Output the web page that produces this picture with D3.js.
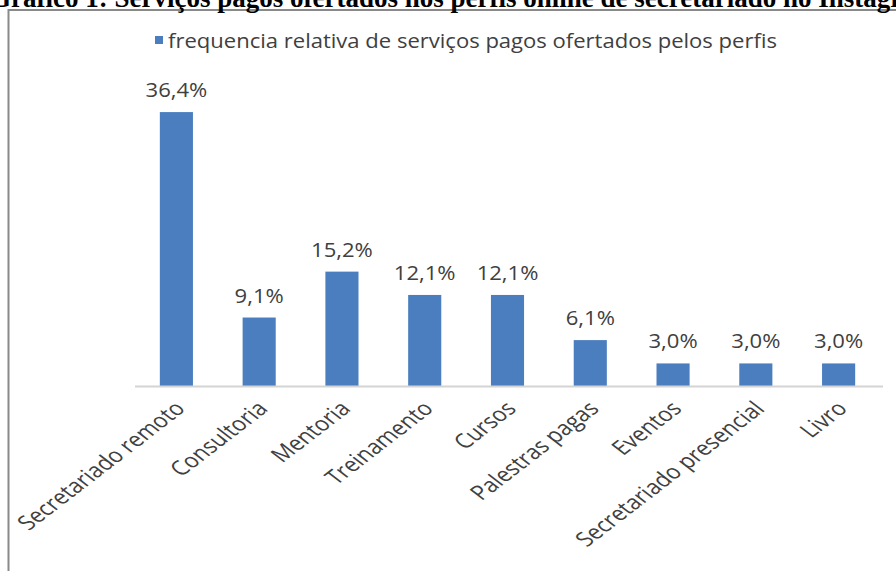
<!DOCTYPE html>
<html>
<head>
  <meta charset='utf-8'>
  <title>Gráfico 1</title>
  <script src="https://cdnjs.cloudflare.com/ajax/libs/d3/7.8.5/d3.min.js"></script>
  <style>
    body { margin: 0; background: white; }
    .lbl { font-family: 'Open Sans', sans-serif; fill: #404040; }
  </style>
</head>
<body>
  <svg id="chart" width="896" height="571"></svg>
  <script>
    const categories = ['Secretariado remoto', 'Consultoria', 'Mentoria', 'Treinamento', 'Cursos',
      'Palestras pagas', 'Eventos', 'Secretariado presencial', 'Livro'];
    const values = [36.4, 9.1, 15.2, 12.1, 12.1, 6.1, 3.0, 3.0, 3.0];
    const seriesName = 'frequencia relativa de serviços pagos ofertados pelos perfis';
    const title = 'Gráfico 1: Serviços pagos ofertados nos perfis online de secretariado no Instagram';

    const svg = d3.select('#chart');
    const blue = '#4a7ebf';
    // the scanned chart is stretched sideways a bit
    const stretch = 1.3;
    const narrow = 0.87;

    // frame of the pasted excel chart
    svg.append('rect')
      .attr('x', 8.5).attr('y', 10)
      .attr('width', 900).attr('height', 600)
      .attr('fill', 'white')
      .attr('stroke', '#8a8a8a')
      .attr('stroke-width', 2);

    // title, clipped by the top of the page like in the scan
    svg.append('text')
      .attr('x', -10)
      .attr('y', 7)
      .attr('font-family', "'Liberation Serif', serif")
      .attr('font-weight', 'bold')
      .attr('font-size', 27)
      .attr('fill', 'black')
      .text(title);

    const x = d3.scaleBand()
      .domain(categories)
      .range([135, 880])
      .paddingInner(0.6)
      .paddingOuter(0.3);

    const y = d3.scaleLinear()
      .domain([0, 40])
      .range([386, 85]);

    svg.append('g')
      .selectAll('rect')
      .data(values)
      .join('rect')
      .attr('x', (d, i) => x(categories[i]))
      .attr('y', d => y(d))
      .attr('width', x.bandwidth())
      .attr('height', d => y(0) - y(d))
      .attr('fill', blue);

    // axis line
    svg.append('line')
      .attr('x1', 135).attr('x2', 883)
      .attr('y1', y(0) + 0.5).attr('y2', y(0) + 0.5)
      .attr('stroke', '#d4d4d4')
      .attr('stroke-width', 2);

    // value labels
    svg.append('g')
      .selectAll('text')
      .data(values)
      .join('text')
      .classed('lbl', true)
      .attr('text-anchor', 'middle')
      .attr('font-size', 19.5)
      .attr('transform', (d, i) =>
        `translate(${x(categories[i]) + x.bandwidth() / 2},${y(d) - 15}) scale(${stretch * narrow},1)`)
      .text(d => d.toFixed(1).replace('.', ',') + '%');

    // category labels
    svg.append('g')
      .selectAll('text')
      .data(categories)
      .join('text')
      .classed('lbl', true)
      .attr('text-anchor', 'end')
      .attr('font-size', 20.5)
      .attr('transform', d =>
        `translate(${x(d) + x.bandwidth() / 2 + 10},${y(0) + 24}) scale(${stretch},1) rotate(-45) scale(${narrow},1)`)
      .text(d => d);

    // legend
    const legend = svg.append('g');
    legend.append('rect')
      .attr('x', 155).attr('y', 36)
      .attr('width', 8).attr('height', 8)
      .attr('fill', blue);
    legend.append('text')
      .classed('lbl', true)
      .attr('font-size', 19.5)
      .attr('transform', `translate(168,48) scale(${stretch * narrow},1)`)
      .text(seriesName);
  </script>
</body>
</html>
